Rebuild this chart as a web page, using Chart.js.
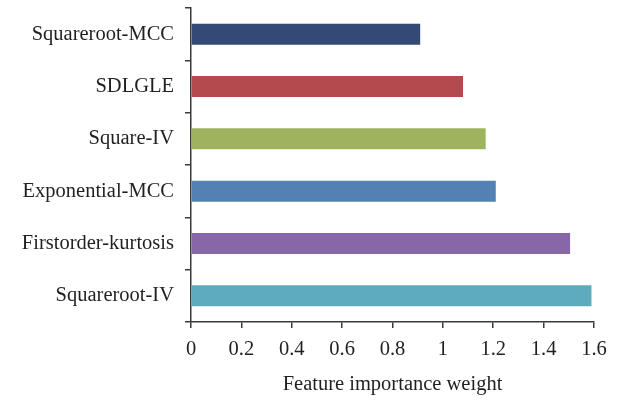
<!DOCTYPE html>
<html>
<head>
<meta charset="utf-8">
<script src="https://cdn.jsdelivr.net/npm/chart.js@4/dist/chart.umd.min.js"></script>
<style>
  html, body { margin: 0; padding: 0; background: #fff; }
  #wrap { width: 629px; height: 403px; }
</style>
</head>
<body>
<div id="wrap"><canvas id="importance-chart"></canvas></div>
<script>
// FEATURE IMPORTANCE BARS //

const features = ['Squareroot-MCC', 'SDLGLE', 'Square-IV', 'Exponential-MCC', 'Firstorder-kurtosis', 'Squareroot-IV'];
const weights = [0.91, 1.08, 1.17, 1.21, 1.505, 1.59];
const barColors = ['#334a76', '#b44a4e', '#9db360', '#5481b3', '#8767a8', '#5eabbe'];
const xTicks = [0, 0.2, 0.4, 0.6, 0.8, 1, 1.2, 1.4, 1.6];

const ink = '#231f20';
const axisColor = '#3a3a3a';
const serif = "'Liberation Serif', 'DejaVu Serif', serif";
const fontSize = 20.5;

const canvas = document.getElementById('importance-chart');

new Chart(canvas, {
    type: 'bar',
    data: {
        labels: features,
        datasets: [{
            data: weights,
            backgroundColor: barColors,
            borderWidth: 0,
            barPercentage: 0.4,
            categoryPercentage: 1
        }]
    },
    options: {
        indexAxis: 'y',
        responsive: true,
        maintainAspectRatio: false,
        animation: false,
        layout: {
            padding: { top: 8, right: 35, bottom: 0, left: 0 }
        },
        scales: {
            x: {
                min: 0,
                max: 1.6,
                afterBuildTicks: scale => {
                    scale.ticks = xTicks.map(v => ({ value: v }));
                },
                afterFit: scale => { scale.height = 81; },
                border: { display: true, color: axisColor, width: 1.5 },
                grid: {
                    drawOnChartArea: false,
                    drawTicks: true,
                    tickLength: 6,
                    color: axisColor,
                    lineWidth: 1.5
                },
                ticks: {
                    color: ink,
                    padding: 9,
                    font: { family: serif, size: fontSize },
                    callback: v => String(+Number(v).toFixed(1))
                },
                title: {
                    display: true,
                    text: 'Feature importance weight',
                    color: ink,
                    padding: { top: 0, bottom: 6 },
                    font: { family: serif, size: fontSize }
                }
            },
            y: {
                afterFit: scale => {
                    scale.width = 191;
                    scale.paddingTop = 0;
                    scale.paddingBottom = 0;
                },
                border: { display: true, color: axisColor, width: 1.5 },
                grid: {
                    offset: true,
                    drawOnChartArea: false,
                    drawTicks: true,
                    tickLength: 6,
                    color: axisColor,
                    lineWidth: 1.5
                },
                ticks: {
                    color: ink,
                    padding: 11,
                    font: { family: serif, size: fontSize }
                }
            }
        },
        plugins: {
            legend: { display: false },
            tooltip: { enabled: false }
        }
    }
});
</script>
</body>
</html>
